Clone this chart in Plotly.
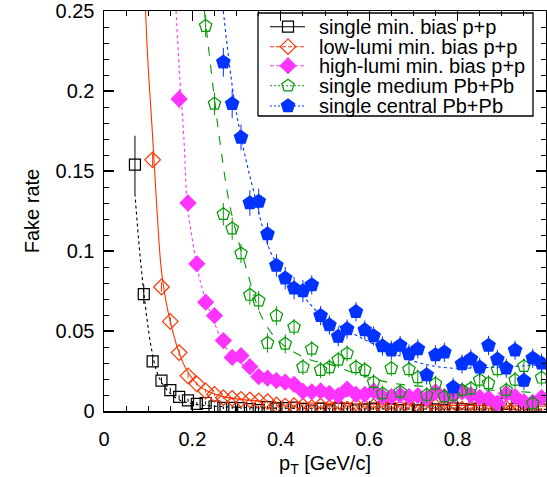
import plotly.graph_objects as go

# ---------------- data ----------------
black_x = [0.07, 0.09, 0.11, 0.13, 0.15, 0.17, 0.19, 0.21, 0.23, 0.25, 0.27, 0.29, 0.31, 0.33, 0.35, 0.37,
           0.39, 0.41, 0.43, 0.45, 0.47, 0.49, 0.51, 0.53, 0.55, 0.57, 0.59, 0.61, 0.63, 0.65, 0.67, 0.69,
           0.71, 0.73, 0.75, 0.77, 0.79, 0.81, 0.83, 0.85, 0.87, 0.89, 0.91, 0.93, 0.95, 0.97, 0.99]
black_y = [0.154, 0.073, 0.031, 0.019, 0.013, 0.0088, 0.0067, 0.0045, 0.005, 0.0028, 0.002, 0.002, 0.0018,
           0.0012, 0.0006, 0.0024, 0.0015, 0.0018, 0.0022, 0.0012, 0.0003, 0.0015, 0.0004, 0.0016, 0.0014,
           0.0003, 0.0008, 0.0015, 0.0022, 0.0012, 0.0006, 0.0014, 0.0004, 0.0018, 0.001, 0.0005, 0.0016,
           0.0012, 0.0008, 0.0015, 0.0006, 0.0024, 0.0045, 0.0012, 0.0006, 0.0016, 0.0009]
black_err = [0.018, 0.006, 0.003, 0.002, 0.0015, 0.0012, 0.001, 0.001, 0.001, 0.0008,
             0.0008, 0.0008, 0.0008, 0.0008, 0.0008, 0.0008, 0.0008, 0.0008, 0.0008, 0.0008,
             0.0008, 0.0008, 0.0008, 0.0008, 0.0008, 0.0008, 0.0008, 0.0008, 0.0008, 0.0008,
             0.0008, 0.0008, 0.0008, 0.0008, 0.0008, 0.0008, 0.0008, 0.0008, 0.0008, 0.0008,
             0.0008, 0.0008, 0.0008, 0.0008, 0.0008, 0.0008, 0.0008]
black_fit_x = [0.070, 0.078, 0.087, 0.097, 0.108, 0.119, 0.13, 0.15, 0.17, 0.20, 0.25, 0.35, 0.5, 0.75, 1.0]
black_fit_y = [0.136, 0.108, 0.082, 0.058, 0.038, 0.025, 0.018, 0.011, 0.007, 0.0045, 0.003, 0.002, 0.0015, 0.0012, 0.001]

red_x = [0.11, 0.13, 0.15, 0.17, 0.19, 0.21, 0.23, 0.25, 0.27, 0.29, 0.31, 0.33, 0.35, 0.37, 0.39,
         0.41, 0.43, 0.45, 0.47, 0.49, 0.51, 0.53, 0.55, 0.57, 0.59, 0.61, 0.63, 0.65, 0.67, 0.69,
         0.71, 0.73, 0.75, 0.77, 0.79, 0.81, 0.83, 0.85, 0.87, 0.89, 0.91, 0.93, 0.95, 0.97, 0.99]
red_y = [0.157, 0.0775, 0.056, 0.0365, 0.022, 0.017, 0.0125, 0.0104, 0.0083, 0.0079, 0.0073, 0.007, 0.0063,
         0.0058, 0.0038, 0.0031, 0.0033, 0.0031, 0.0021, 0.0031, 0.0021, 0.0033, 0.0012, 0.0031, 0.0021,
         0.0027, 0.0024, 0.0031, 0.0017, 0.0027, 0.0038, 0.0021, 0.0027, 0.0021, 0.0017, 0.0012, 0.0017,
         0.0017, 0.001, 0.0017, 0.0017, 0.0021, 0.0002, 0.0005, 0.001]
red_err = [0.004, 0.003, 0.0025, 0.002, 0.0015, 0.0012, 0.001, 0.001, 0.0008, 0.0008,
           0.0008, 0.0008, 0.0008, 0.0008, 0.0008, 0.0008, 0.0008, 0.0008, 0.0008, 0.0008,
           0.0008, 0.0008, 0.0008, 0.0008, 0.0008, 0.0008, 0.0008, 0.0008, 0.0008, 0.0008,
           0.0008, 0.0008, 0.0008, 0.0008, 0.0008, 0.0008, 0.0008, 0.0008, 0.0008, 0.0008,
           0.0008, 0.0008, 0.0008, 0.0008, 0.0008]
red_fit_x = [0.094, 0.100, 0.109, 0.120, 0.129, 0.138, 0.149, 0.168, 0.187, 0.217, 0.27, 0.376, 0.5, 0.7, 1.0]
red_fit_y = [0.25, 0.215, 0.176, 0.125, 0.090, 0.072, 0.057, 0.038, 0.0256, 0.0152, 0.009, 0.0058, 0.0048, 0.0038, 0.003]

mag_x = [0.17, 0.19, 0.21, 0.23, 0.25, 0.27, 0.29, 0.31, 0.33, 0.35, 0.37, 0.39, 0.41, 0.43,
         0.45, 0.47, 0.49, 0.51, 0.53, 0.55, 0.57, 0.59, 0.61, 0.63, 0.65, 0.67, 0.69, 0.71,
         0.73, 0.75, 0.77, 0.79, 0.81, 0.83, 0.85, 0.87, 0.89, 0.91, 0.93, 0.95, 0.97, 0.99]
mag_y = [0.195, 0.130, 0.092, 0.068, 0.0596, 0.044, 0.0335, 0.0346, 0.0277, 0.0215, 0.0205, 0.019, 0.018,
         0.0167, 0.0123, 0.012, 0.0125, 0.011, 0.0096, 0.0137, 0.0104, 0.0104, 0.0125, 0.009, 0.009, 0.010,
         0.009, 0.0096, 0.0079, 0.012, 0.009, 0.0096, 0.012, 0.010, 0.0085, 0.0079, 0.0048, 0.011, 0.009,
         0.0058, 0.0054, 0.0083]
mag_err = [0.006, 0.005, 0.004, 0.003, 0.003, 0.0025, 0.0022, 0.0022, 0.002, 0.002,
           0.0018, 0.0018, 0.0018, 0.0018, 0.0018, 0.0018, 0.0018, 0.0018, 0.0018, 0.0018,
           0.0018, 0.0018, 0.0018, 0.0018, 0.0018, 0.0018, 0.0018, 0.0018, 0.0018, 0.0018,
           0.0018, 0.0018, 0.0018, 0.0018, 0.0018, 0.0018, 0.0018, 0.0018, 0.0018, 0.0018,
           0.0018, 0.0018]
mag_fit_x = [0.163, 0.170, 0.181, 0.188, 0.200, 0.217, 0.247, 0.285, 0.36, 0.466, 0.6, 0.8, 1.0]
mag_fit_y = [0.25, 0.215, 0.169, 0.131, 0.107, 0.082, 0.057, 0.036, 0.0215, 0.013, 0.0105, 0.009, 0.0085]

grn_x = [0.23, 0.25, 0.27, 0.29, 0.31, 0.33, 0.35, 0.37, 0.39, 0.41, 0.43, 0.45, 0.47,
         0.49, 0.51, 0.53, 0.55, 0.57, 0.59, 0.61, 0.63, 0.65, 0.67, 0.69, 0.71, 0.73,
         0.75, 0.77, 0.79, 0.81, 0.83, 0.85, 0.87, 0.89, 0.91, 0.93, 0.95, 0.97, 0.99]
grn_y = [0.2406, 0.192, 0.123, 0.114, 0.0985, 0.0725, 0.069, 0.0425, 0.0596, 0.042, 0.0525, 0.0275, 0.0388,
         0.0256, 0.0273, 0.032, 0.036, 0.0273, 0.0256, 0.018, 0.011, 0.0267, 0.012, 0.026, 0.021, 0.010,
         0.017, 0.009, 0.010, 0.013, 0.014, 0.0194, 0.0173, 0.026, 0.013, 0.0194, 0.028, 0.0048, 0.0208]
grn_err = [0.007, 0.007, 0.007, 0.007, 0.006, 0.006, 0.006, 0.006, 0.006, 0.006,
           0.005, 0.005, 0.005, 0.005, 0.005, 0.005, 0.005, 0.005, 0.005, 0.005,
           0.005, 0.005, 0.005, 0.005, 0.005, 0.005, 0.005, 0.005, 0.005, 0.005,
           0.005, 0.005, 0.005, 0.005, 0.005, 0.005, 0.005, 0.005, 0.005]
grn_fit_x = [0.227, 0.25, 0.262, 0.285, 0.323, 0.36, 0.398, 0.466, 0.504, 0.579, 0.655, 0.73, 0.805, 0.88, 1.0]
grn_fit_y = [0.25, 0.195, 0.169, 0.128, 0.088, 0.057, 0.043, 0.032, 0.0298, 0.0225, 0.0173, 0.0152, 0.0135, 0.013, 0.011]

blu_x = [0.27, 0.29, 0.31, 0.33, 0.35, 0.37, 0.39, 0.41, 0.43, 0.45, 0.47, 0.49, 0.51,
         0.53, 0.55, 0.57, 0.59, 0.61, 0.63, 0.65, 0.67, 0.69, 0.71, 0.73, 0.75, 0.77,
         0.79, 0.81, 0.83, 0.85, 0.87, 0.89, 0.91, 0.93, 0.95, 0.97, 0.99]
blu_y = [0.218, 0.192, 0.171, 0.130, 0.131, 0.1106, 0.091, 0.083, 0.0767, 0.075, 0.0788, 0.0596, 0.0537,
         0.0465, 0.0512, 0.062, 0.0506, 0.0469, 0.0406, 0.038, 0.041, 0.0356, 0.0388, 0.0225, 0.035, 0.0367,
         0.0148, 0.0294, 0.0325, 0.0273, 0.041, 0.0323, 0.0267, 0.038, 0.019, 0.033, 0.0298]
blu_err = [0.009, 0.009, 0.008, 0.008, 0.008, 0.007, 0.007, 0.007, 0.007, 0.007,
           0.006, 0.006, 0.006, 0.006, 0.006, 0.006, 0.006, 0.006, 0.006, 0.006,
           0.006, 0.006, 0.006, 0.006, 0.006, 0.006, 0.006, 0.006, 0.006, 0.006,
           0.006, 0.006, 0.006, 0.006, 0.006, 0.006, 0.006]
blu_fit_x = [0.27, 0.293, 0.314, 0.338, 0.376, 0.413, 0.45, 0.49, 0.52, 0.58, 0.655, 0.715, 0.775, 0.85, 1.0]
blu_fit_y = [0.25, 0.1975, 0.166, 0.138, 0.100, 0.083, 0.072, 0.060, 0.055, 0.046, 0.036, 0.030, 0.027, 0.027, 0.029]

names = ["single min. bias p+p", "low-lumi min. bias p+p", "high-lumi min. bias p+p",
         "single medium Pb+Pb", "single central Pb+Pb"]

# ---------------- styles ----------------
BLACK = "#000000"
RED = "#ff3300"
MAG = "#ff33ff"
GRN = "#009900"
BLU = "#0033ff"
FONT = "Liberation Sans, Arial, Helvetica, sans-serif"
FS = 20

series = [
    dict(x=black_x, y=black_y, e=black_err, fx=black_fit_x, fy=black_fit_y, c=BLACK,
         sym="square-open", size=11, fitdash="dot", legdash="solid", name=names[0]),
    dict(x=red_x, y=red_y, e=red_err, fx=red_fit_x, fy=red_fit_y, c=RED,
         sym="diamond-open", size=12, fitdash="solid", legdash="4px,2px", name=names[1]),
    dict(x=mag_x, y=mag_y, e=mag_err, fx=mag_fit_x, fy=mag_fit_y, c=MAG,
         sym="diamond", size=12, fitdash="dot", legdash="4px,2px", name=names[2]),
    dict(x=grn_x, y=grn_y, e=grn_err, fx=grn_fit_x, fy=grn_fit_y, c=GRN,
         sym="pentagon-open", size=13, fitdash="dash", legdash="2px,2px", name=names[3]),
    dict(x=blu_x, y=blu_y, e=blu_err, fx=blu_fit_x, fy=blu_fit_y, c=BLU,
         sym="pentagon", size=14, fitdash="dot", legdash="2px,2px", name=names[4]),
]

fig = go.Figure()

# fit curves
for s in series:
    fig.add_trace(go.Scatter(x=s["fx"], y=s["fy"], mode="lines", line_shape="spline",
                             line=dict(color=s["c"], width=1.1, dash=s["fitdash"]),
                             showlegend=False, hoverinfo="skip"))

# data points with error bars
for s in series:
    fig.add_trace(go.Scatter(x=s["x"], y=s["y"], mode="markers", name=s["name"],
                             marker=dict(symbol=s["sym"], size=s["size"], color=s["c"],
                                         line=dict(color=s["c"], width=1.2)),
                             error_y=dict(type="data", array=s["e"], visible=True,
                                          color=s["c"], thickness=1, width=0),
                             showlegend=False))

# ---------------- hand-built legend (overlay axis in plot-fraction units) ----------------
LEG_BOX = (0.3484, 0.9706, 0.7375, 0.995)   # x0, x1, y0, y1
LEG_LINE = (0.3756, 0.4548)
LEG_MARK_X = 0.4163
LEG_TEXT_X = 0.4819
LEG_ROWS = [0.9608, 0.9108, 0.8633, 0.8133, 0.7625]

bx0, bx1, by0, by1 = LEG_BOX
fig.add_trace(go.Scatter(x=[bx0, bx1, bx1, bx0, bx0], y=[by0, by0, by1, by1, by0],
                         mode="lines", fill="toself", fillcolor="white",
                         line=dict(color="black", width=1.3),
                         xaxis="x2", yaxis="y2", showlegend=False, hoverinfo="skip"))
for s, ry in zip(series, LEG_ROWS):
    fig.add_trace(go.Scatter(x=[LEG_LINE[0], LEG_LINE[1]], y=[ry, ry], mode="lines",
                             line=dict(color=s["c"], width=1.1, dash=s["legdash"]),
                             xaxis="x2", yaxis="y2", showlegend=False, hoverinfo="skip"))
    fig.add_trace(go.Scatter(x=[LEG_MARK_X], y=[ry], mode="markers",
                             marker=dict(symbol=s["sym"], size=s["size"], color=s["c"],
                                         line=dict(color=s["c"], width=1.2)),
                             xaxis="x2", yaxis="y2", showlegend=False, hoverinfo="skip"))
    fig.add_annotation(x=LEG_TEXT_X, y=ry, xref="paper", yref="paper", text=s["name"],
                       showarrow=False, xanchor="left", yanchor="middle",
                       font=dict(family=FONT, size=FS, color="black"))

fig.update_layout(
    width=547, height=477,
    margin=dict(l=104, r=1, t=11, b=66),
    paper_bgcolor="white", plot_bgcolor="white",
    font=dict(family=FONT, size=FS, color="black"),
    showlegend=False,
    xaxis=dict(range=[0, 1], dtick=0.2, tick0=0, showgrid=False, zeroline=False,
               showline=True, linecolor="black", linewidth=1.5, mirror="allticks",
               ticks="inside", ticklen=10, tickwidth=1.2, tickcolor="black",
               minor=dict(dtick=0.05, ticks="inside", ticklen=5, tickwidth=1, tickcolor="black"),
               tickfont=dict(size=FS), ticklabelstandoff=9, automargin=False,
               title=dict(text="p<sub>T</sub> [GeV/c]", font=dict(size=FS), standoff=7)),
    yaxis=dict(range=[0, 0.25], dtick=0.05, tick0=0, showgrid=False, zeroline=False,
               showline=True, linecolor="black", linewidth=1.5, mirror="allticks",
               ticks="inside", ticklen=10, tickwidth=1.2, tickcolor="black",
               minor=dict(dtick=0.01, ticks="inside", ticklen=5, tickwidth=1, tickcolor="black"),
               tickfont=dict(size=FS), ticklabelstandoff=4, automargin=False,
               title=dict(text="Fake rate", font=dict(size=FS), standoff=10)),
    xaxis2=dict(overlaying="x", anchor="y2", range=[0, 1], visible=False, fixedrange=True),
    yaxis2=dict(overlaying="y", anchor="x2", range=[0, 1], visible=False, fixedrange=True),
)

fig.write_html("out.html", config={"displayModeBar": False, "staticPlot": True},
               post_script="document.body.style.margin='0';")
